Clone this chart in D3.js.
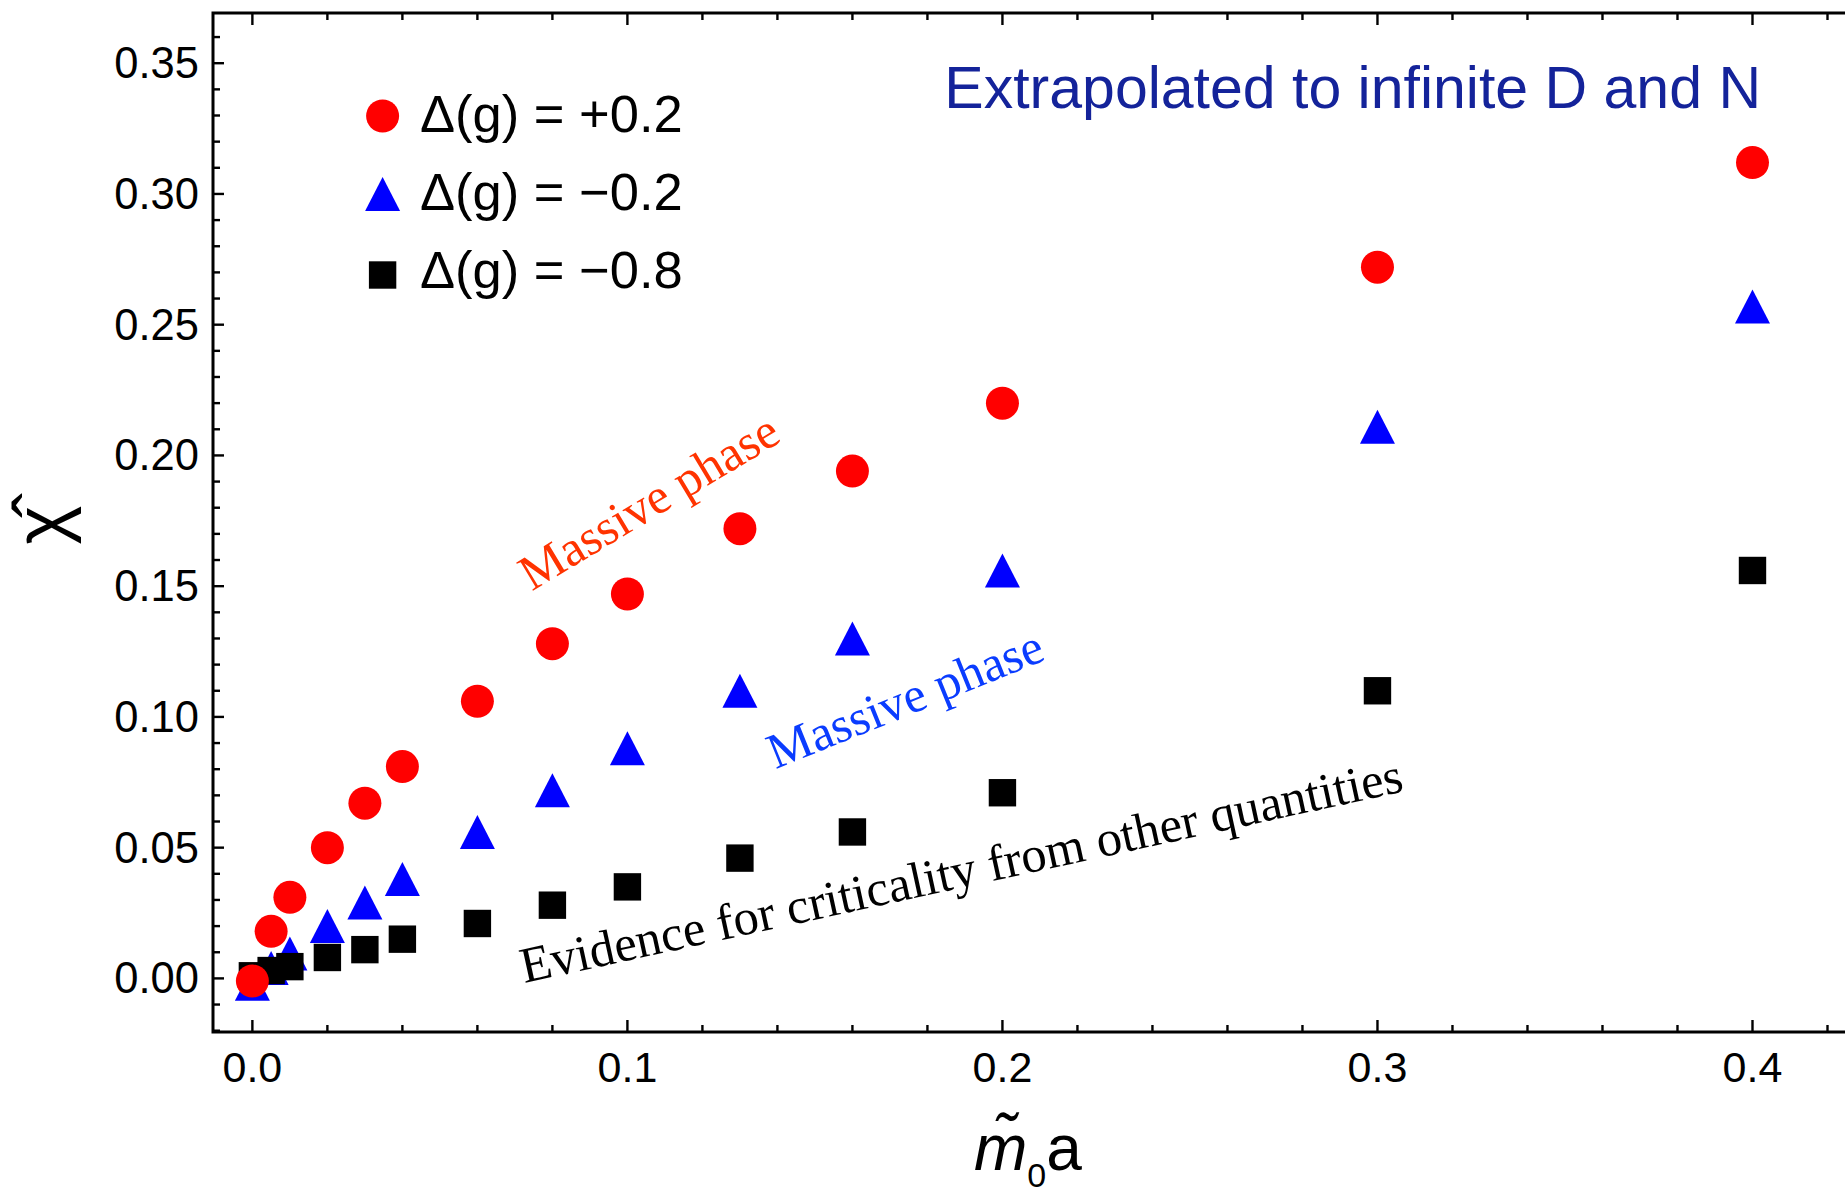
<!DOCTYPE html>
<html>
<head>
<meta charset="utf-8">
<script src="https://cdn.jsdelivr.net/npm/d3@7"></script>
<style>
  html, body { margin: 0; padding: 0; background: #fff; }
  svg { display: block; }
</style>
</head>
<body>
<svg id="chart" width="1845" height="1194"></svg>
<script>
// Bare-mass values m0*a at which chi-hat was measured
const xValues = [0, 0.005, 0.01, 0.02, 0.03, 0.04, 0.06, 0.08, 0.10, 0.13, 0.16, 0.20, 0.30, 0.40];

// chi-hat, extrapolated to infinite D and N, for each coupling shift
const chiPlus02  = [-0.001, 0.018, 0.031, 0.050, 0.067, 0.081, 0.106, 0.128, 0.147, 0.172, 0.194, 0.220, 0.272, 0.312];
const chiMinus02 = [-0.002, 0.004, 0.0095, 0.020, 0.029, 0.038, 0.056, 0.072, 0.088, 0.110, 0.130, 0.156, 0.211, 0.257];
const chiMinus08 = [0.001, 0.003, 0.0045, 0.008, 0.011, 0.015, 0.021, 0.028, 0.035, 0.046, 0.056, 0.071, 0.110, 0.156];

const seriesLabels = ["\u0394(g) = +0.2", "\u0394(g) = \u22120.2", "\u0394(g) = \u22120.8"];
const xTickLabels = ["0.0", "0.1", "0.2", "0.3", "0.4"];
const yTickLabels = ["0.00", "0.05", "0.10", "0.15", "0.20", "0.25", "0.30", "0.35"];

const W = 1845, H = 1194;
const plot = { left: 213, top: 13, bottom: 1032, right: 1865 };

const x = d3.scaleLinear().domain([-0.0105, 0.4300]).range([plot.left, plot.right]);
const y = d3.scaleLinear().domain([-0.0205, 0.3692]).range([plot.bottom, plot.top]);

const svg = d3.select("#chart");
const sans = "'Liberation Sans', Arial, Helvetica, sans-serif";
const serif = "'Liberation Serif', 'Times New Roman', Times, serif";

// ---- marker shapes ----
const markerPath = {
  circle: () => { const p = d3.path(); p.arc(0, 0, 16.5, 0, 2 * Math.PI); return p.toString(); },
  triangle: () => "M0,-17L17.5,17L-17.5,17Z",
  square: () => "M-13.7,-13.7H13.7V13.7H-13.7Z"
};

const series = [
  { values: chiMinus02, shape: "triangle", color: "#0000ff", label: seriesLabels[1] },
  { values: chiMinus08, shape: "square",   color: "#000000", label: seriesLabels[2] },
  { values: chiPlus02,  shape: "circle",   color: "#ff0000", label: seriesLabels[0] }
];

svg.append("defs").append("clipPath").attr("id", "plotclip")
  .append("rect").attr("x", plot.left).attr("y", plot.top)
  .attr("width", plot.right - plot.left).attr("height", plot.bottom - plot.top);

// ---- data points ----
const pts = svg.append("g").attr("clip-path", "url(#plotclip)");
series.forEach(s => {
  pts.append("g").selectAll("path")
    .data(xValues.map((xv, i) => [xv, s.values[i]]))
    .join("path")
    .attr("d", markerPath[s.shape]())
    .attr("transform", d => `translate(${x(d[0])},${y(d[1])})`)
    .attr("fill", s.color);
});

// ---- frame and ticks ----
const frame = svg.append("g").attr("stroke", "#000").attr("fill", "none");
frame.append("path")
  .attr("d", `M${plot.right},${plot.top}H${plot.left}V${plot.bottom}H${plot.right}`)
  .attr("stroke-width", 3);

const xMajor = d3.range(0, 0.4001, 0.1);
const xMinor = d3.range(0, 0.4301, 0.02).filter(v => Math.abs(v * 10 - Math.round(v * 10)) > 1e-6);
const yMajor = d3.range(0, 0.3501, 0.05);
const yMinor = d3.range(-0.02, 0.3651, 0.01).filter(v => Math.abs(v * 20 - Math.round(v * 20)) > 1e-6);

const tickW = 2.4;
function xTicks(vals, len) {
  vals.forEach(v => {
    frame.append("line").attr("x1", x(v)).attr("x2", x(v))
      .attr("y1", plot.bottom).attr("y2", plot.bottom - len).attr("stroke-width", tickW);
    frame.append("line").attr("x1", x(v)).attr("x2", x(v))
      .attr("y1", plot.top).attr("y2", plot.top + len).attr("stroke-width", tickW);
  });
}
function yTicks(vals, len) {
  vals.forEach(v => {
    frame.append("line").attr("x1", plot.left).attr("x2", plot.left + len)
      .attr("y1", y(v)).attr("y2", y(v)).attr("stroke-width", tickW);
  });
}
xTicks(xMajor, 12); xTicks(xMinor, 7);
yTicks(yMajor, 11); yTicks(yMinor, 7);

// ---- tick labels ----
svg.append("g").selectAll("text").data(xMajor).join("text")
  .attr("x", d => x(d)).attr("y", 1082)
  .attr("text-anchor", "middle")
  .attr("font-family", sans).attr("font-size", 43)
  .text((d, i) => xTickLabels[i]);

svg.append("g").selectAll("text").data(yMajor).join("text")
  .attr("x", 199).attr("y", d => y(d) + 15)
  .attr("text-anchor", "end")
  .attr("font-family", sans).attr("font-size", 43.5)
  .text((d, i) => yTickLabels[i]);

// ---- axis titles ----
svg.append("text")
  .attr("transform", "translate(66,525) rotate(-90)")
  .attr("text-anchor", "middle")
  .attr("font-family", sans).attr("font-size", 74)
  .text("\u03C7\u0302");

const xt = svg.append("text").attr("x", 974).attr("y", 1170)
  .attr("font-family", sans).attr("font-size", 64);
xt.append("tspan").attr("font-style", "italic").text("m\u0303");
xt.append("tspan").attr("font-size", 34).attr("dy", 17).text("0");
xt.append("tspan").attr("dy", -17).text("a");

// ---- legend ----
const legendRows = [series[2], series[0], series[1]];
const lg = svg.append("g");
legendRows.forEach((s, i) => {
  const cy = [116, 194, 275][i];
  lg.append("path").attr("d", markerPath[s.shape]())
    .attr("transform", `translate(382.6,${cy})`).attr("fill", s.color);
  lg.append("text").attr("x", 420).attr("y", 131.7 + i * 78.3)
    .attr("font-family", sans).attr("font-size", 52.5)
    .text(s.label);
});

// ---- annotations ----
svg.append("text")
  .attr("x", 1761).attr("y", 108.3)
  .attr("text-anchor", "end")
  .attr("font-family", sans).attr("font-size", 59)
  .attr("fill", "#14239a")
  .text("Extrapolated to infinite D and N");

const notes = [
  { text: "Massive phase", at: [0.0745, 0.1480], angle: -31, size: 50, color: "#ff3300" },
  { text: "Massive phase", at: [0.1395, 0.0800], angle: -22, size: 50, color: "#0a3cff" },
  { text: "Evidence for criticality from other quantities", at: [0.0725, -0.0018], angle: -12.3, size: 50.5, color: "#000000" }
];
svg.append("g").selectAll("text").data(notes).join("text")
  .attr("transform", d => `translate(${x(d.at[0])},${y(d.at[1])}) rotate(${d.angle})`)
  .attr("font-family", serif).attr("font-size", d => d.size)
  .attr("fill", d => d.color)
  .text(d => d.text);
</script>
</body>
</html>
